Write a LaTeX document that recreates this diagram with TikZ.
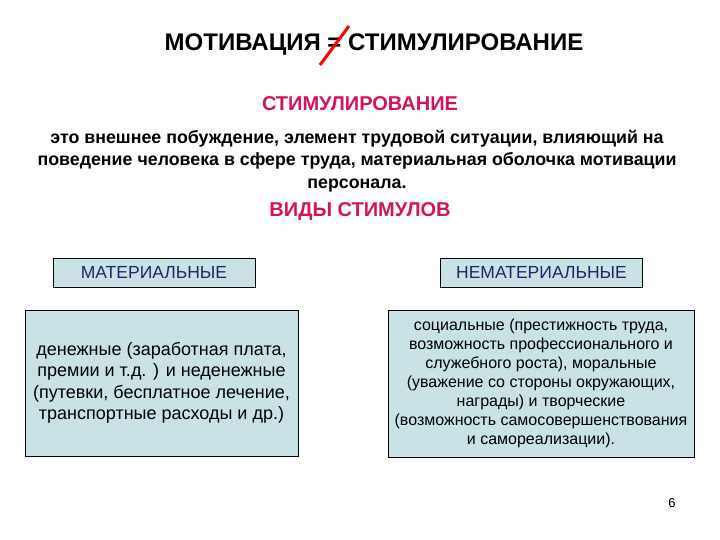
\documentclass[tikz,border=0pt]{standalone}
\usepackage{fontspec}
\setmainfont{Liberation Sans}
\usepackage{tikz}
\usetikzlibrary{positioning}
\usepackage{xcolor}
\definecolor{stimred}{RGB}{210,20,90}
\definecolor{boxfill}{RGB}{200,226,230}
\definecolor{navytext}{RGB}{30,40,100}

\begin{document}
\begin{tikzpicture}[x=1pt, y=1pt]
    \useasboundingbox (0,0) rectangle (720,540);
    \tikzset{headbox/.style={draw, fill=boxfill, minimum width=202pt, minimum height=29pt, inner sep=0pt, text=navytext, font=\fontsize{17.5}{20}\selectfont},
             bodybox/.style={draw, fill=boxfill, inner sep=0pt, align=center}}
    \node[font=\bfseries\fontsize{24}{28}\selectfont] (title) at (374,495) {МОТИВАЦИЯ = СТИМУЛИРОВАНИЕ};
    \node[text=stimred, font=\bfseries\fontsize{20}{24}\selectfont] (stim) at (360,436) {СТИМУЛИРОВАНИЕ};
    \node[align=center, font=\bfseries\fontsize{17.8}{22.5}\selectfont] (defn) at (357,379) {это внешнее побуждение, элемент трудовой ситуации, влияющий на\\поведение человека в сфере труда, материальная оболочка мотивации\\персонала.};
    \node[text=stimred, font=\bfseries\fontsize{20}{24}\selectfont] (kinds) at (360,328) {ВИДЫ СТИМУЛОВ};
    \node[headbox] (mat) at (154,267.5) {МАТЕРИАЛЬНЫЕ};
    \node[headbox] (nonmat) at (541.5,267.5) {НЕМАТЕРИАЛЬНЫЕ};
    \node[bodybox, minimum width=273pt, minimum height=146pt, font=\fontsize{18}{21.5}\selectfont] (matbody) at (161.5,157) {денежные (заработная плата,\\премии и т.д. ) и неденежные\\(путевки, бесплатное лечение,\\транспортные расходы и др.)};
    \node[bodybox, minimum width=306pt, minimum height=147pt, font=\fontsize{16}{19}\selectfont] (nonmatbody) at (541,156.5) {социальные (престижность труда,\\возможность профессионального и\\служебного роста), моральные\\(уважение со стороны окружающих,\\награды) и творческие\\(возможность самосовершенствования\\и самореализации).};
    \node[font=\fontsize{13}{15}\selectfont] (page) at (672,37) {6};
    % red stroke over the equals sign
    \draw[red, line width=3pt] (320,475) -- (349,514);
\end{tikzpicture}
\end{document}
